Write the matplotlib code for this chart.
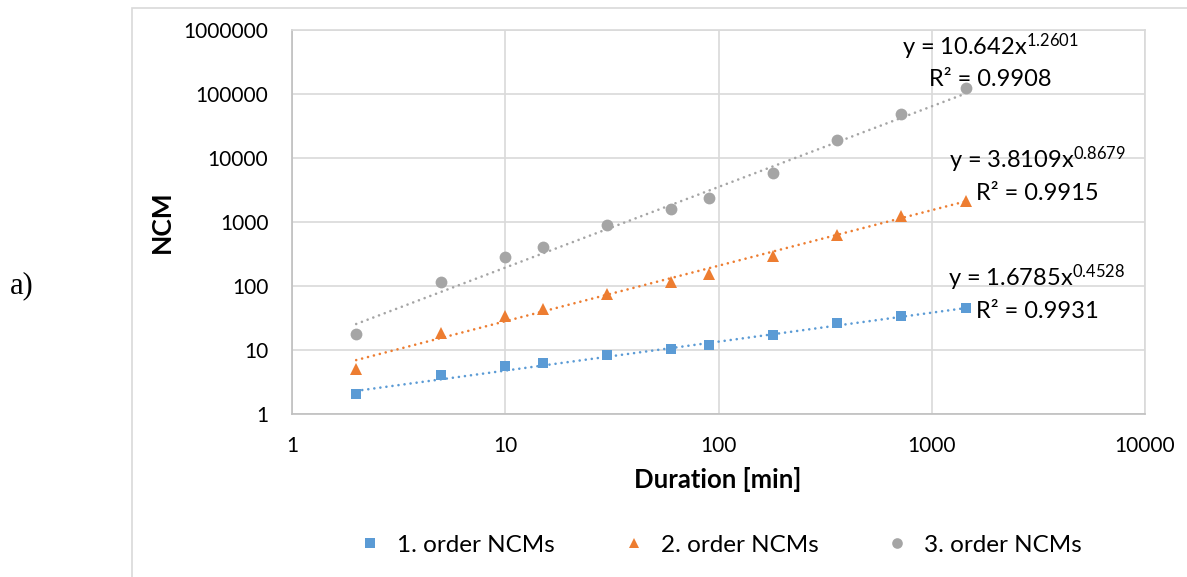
import numpy as np
import matplotlib
matplotlib.use("Agg")
from matplotlib import pyplot as plt
from matplotlib.patches import Rectangle
from matplotlib.ticker import FixedLocator, FuncFormatter, NullLocator

plt.rcParams['font.family'] = ['Lato', 'DejaVu Sans']
plt.rcParams['mathtext.fontset'] = 'custom'
plt.rcParams['mathtext.rm'] = 'Lato'
plt.rcParams['mathtext.it'] = 'Lato:italic'
plt.rcParams['mathtext.bf'] = 'Lato:bold'

# durations in minutes
duration = [2, 5, 10, 15, 30, 60, 90, 180, 360, 720, 1440]
ncm_order1 = [2.07, 4.0, 5.6, 6.3, 8.3, 10.4, 12.1, 17, 26.4, 34.4, 45.3]
ncm_order2 = [5.05, 18.2, 33.6, 44, 74, 114, 154, 293, 627, 1237, 2130]
ncm_order3 = [17.8, 115, 281, 410, 885, 1620, 2370, 5760, 19100, 48700, 123000]

series_names = ['1. order NCMs', '2. order NCMs', '3. order NCMs']
# power trendline y = a * x^b
fit_a = [1.6785, 3.8109, 10.642]
fit_b = [0.4528, 0.8679, 1.2601]
fit_r2 = ['0.9931', '0.9915', '0.9908']

colors = ['#5B9BD5', '#ED7D31', '#A5A5A5']
markers = ['s', '^', 'o']
msizes = [7.5, 8.5, 8.5]

W, H = 1187, 577
fig = plt.figure(figsize=(W / 100, H / 100), dpi=100)
ax = fig.add_axes([292 / W, 1 - 414 / H, (1145 - 292) / W, (414 - 30) / H])

# outer chart frame (clipped on right and bottom)
fig.patches.append(Rectangle((132 / W, -0.2), 1.0, 1.2 - 8 / H, transform=fig.transFigure,
                             fill=False, edgecolor='#D9D9D9', linewidth=1.2))

all_y = [ncm_order1, ncm_order2, ncm_order3]
xfit = np.logspace(np.log10(duration[0]), np.log10(duration[-1]), 50)
for i, y in enumerate(all_y):
    ax.plot(xfit, fit_a[i] * xfit ** fit_b[i], color=colors[i], linewidth=1.9,
            linestyle=(0, (0.01, 2.3)), dash_capstyle='round', zorder=2)
    ax.plot(duration, y, linestyle='none', marker=markers[i], markersize=msizes[i],
            color=colors[i], markeredgewidth=0, label=series_names[i], zorder=3)

ax.set_xscale('log')
ax.set_yscale('log')
ax.set_xlim(1, 10000)
ax.set_ylim(1, 1000000)
ax.xaxis.set_major_locator(FixedLocator([1, 10, 100, 1000, 10000]))
ax.yaxis.set_major_locator(FixedLocator([1, 10, 100, 1000, 10000, 100000, 1000000]))
ax.xaxis.set_minor_locator(NullLocator())
ax.yaxis.set_minor_locator(NullLocator())
fmt = FuncFormatter(lambda v, p: '%d' % round(v))
ax.xaxis.set_major_formatter(fmt)
ax.yaxis.set_major_formatter(fmt)
ax.tick_params(axis='both', length=0, labelsize=15, colors='#000000')
ax.tick_params(axis='y', pad=17)
ax.tick_params(axis='x', pad=16)
ax.grid(True, color='#D9D9D9', linewidth=1.2)
ax.set_axisbelow(True)
for s in ax.spines.values():
    s.set_color('#D9D9D9')
    s.set_linewidth(1.2)
ax.spines['left'].set_color('#BFBFBF')
ax.spines['bottom'].set_color('#BFBFBF')

fig.text(718 / W, 1 - 480 / H, 'Duration [min]', ha='center', va='center',
         fontsize=18.5, fontweight='bold')
fig.text(162 / W, 1 - 222 / H, 'NCM', ha='center', va='center', rotation=90,
         fontsize=19, fontweight='bold')
fig.text(10 / W, 1 - 286 / H, 'a)', ha='left', va='center', fontsize=22,
         family=['Liberation Serif', 'DejaVu Serif'])

# trendline equations: (center x, first line center y) in pixels
eq_pos = [(1037, 278), (1037, 160), (990, 47)]
for i in range(3):
    cx, cy = eq_pos[i]
    fig.text(cx / W, 1 - cy / H, 'y = %sx$^{\\mathrm{%s}}$' % (fit_a[i], '%.4f' % fit_b[i]),
             ha='center', va='center', fontsize=17)
    fig.text(cx / W, 1 - (cy + 33) / H, 'R\u00b2 = ' + fit_r2[i],
             ha='center', va='center', fontsize=17)

fig.legend(loc='center', bbox_to_anchor=(720 / W, 1 - 545 / H), ncol=3, frameon=False,
           fontsize=17.5, handletextpad=0.6, columnspacing=2.75, handlelength=1.0,
           markerscale=0.9)

fig.savefig('out.png', dpi=100)
